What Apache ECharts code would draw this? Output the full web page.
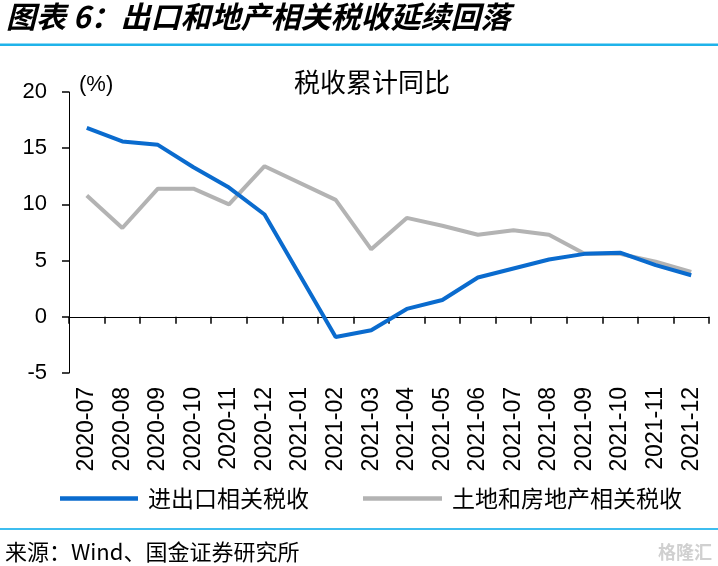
<!DOCTYPE html>
<html>
<head>
<meta charset="utf-8">
<script src="https://cdn.jsdelivr.net/npm/echarts@6/dist/echarts.min.js"></script>
<style>
html,body{margin:0;padding:0;background:#fff;}
#c{width:718px;height:566px;}
</style>
</head>
<body>
<div id="c"></div>
<script>
var categories = ['2020-07','2020-08','2020-09','2020-10','2020-11','2020-12','2021-01','2021-02','2021-03','2021-04','2021-05','2021-06','2021-07','2021-08','2021-09','2021-10','2021-11','2021-12'];
var importExportTax = [16.8, 15.6, 15.3, 13.3, 11.5, 9.1, null, -1.8, -1.2, 0.7, 1.5, 3.5, 4.3, 5.1, 5.6, 5.7, 4.6, 3.7];
var landPropertyTax = [10.8, 7.9, 11.4, 11.4, 10.0, 13.4, null, 10.4, 6.0, 8.8, 8.1, 7.3, 7.7, 7.3, 5.6, 5.6, 4.9, 4.0];
var seriesNames = ['进出口相关税收', '土地和房地产相关税收'];
var yTicks = {min: -5, max: 20, interval: 5};

var cjk = '"Noto Sans CJK SC", "Noto Sans", sans-serif';
var latin = '"Liberation Sans", Arial, sans-serif';

var chart = echarts.init(document.getElementById('c'), null, {renderer: 'canvas'});
chart.setOption({
  backgroundColor: '#fff',
  animation: false,
  grid: {left: 69, right: 9, top: 92, bottom: 193, containLabel: false},
  legend: [
    {data: [seriesNames[0]], left: 55, top: 482, icon: 'rect', itemWidth: 78, itemHeight: 4.5,
     textStyle: {fontFamily: cjk, fontSize: 23, color: '#000', padding: [0,0,0,5]}},
    {data: [seriesNames[1]], left: 358, top: 482, icon: 'rect', itemWidth: 79, itemHeight: 4.5,
     textStyle: {fontFamily: cjk, fontSize: 23, color: '#000', padding: [0,0,0,5]}}
  ],
  xAxis: [
    {type: 'category', data: categories, boundaryGap: true, position: 'bottom',
     axisLine: {show: false, onZero: false}, axisTick: {show: false},
     axisLabel: {rotate: 90, margin: 14, fontFamily: latin, fontSize: 23, color: '#000', interval: 0}},
    {type: 'category', data: categories, boundaryGap: true, position: 'bottom',
     axisLine: {show: true, onZero: true, lineStyle: {color: '#000', width: 1}},
     axisTick: {show: true, length: 7, alignWithLabel: false, interval: 0, lineStyle: {color: '#000', width: 1.5}},
     axisLabel: {show: false}}
  ],
  yAxis: {
    type: 'value', min: yTicks.min, max: yTicks.max, interval: yTicks.interval,
    splitLine: {show: false},
    axisLine: {show: true, lineStyle: {color: '#000', width: 1}},
    axisTick: {show: true, length: 7, lineStyle: {color: '#000', width: 1.5}},
    axisLabel: {margin: 22, fontFamily: latin, fontSize: 22, color: '#000'}
  },
  series: [
    {name: seriesNames[1], type: 'line', data: landPropertyTax, connectNulls: true,
     symbol: 'none', xAxisIndex: 0, color: '#B3B3B3', lineStyle: {width: 4, color: '#B3B3B3'}, z: 2},
    {name: seriesNames[0], type: 'line', data: importExportTax, connectNulls: true,
     symbol: 'none', xAxisIndex: 0, color: '#0A6BCE', lineStyle: {width: 4, color: '#0A6BCE'}, z: 3}
  ],
  graphic: [
    {type: 'text', left: 6, top: 2, style: {text: '图表 6：出口和地产相关税收延续回落', font: 'italic bold 30px ' + cjk, fill: '#000'}},
    {type: 'rect', shape: {x: 0, y: 43.5, width: 718, height: 2.5}, style: {fill: '#1FB3EA'}},
    {type: 'text', x: 372, y: 82, style: {text: '税收累计同比', font: '26px ' + cjk, fill: '#000', align: 'center', verticalAlign: 'middle'}},
    {type: 'text', x: 79, y: 85, style: {text: '(%)', font: '22px ' + latin, fill: '#000', verticalAlign: 'middle'}},
    {type: 'rect', shape: {x: 0, y: 528, width: 718, height: 2}, style: {fill: '#3DBDEF'}},
    {type: 'text', x: 5, y: 552, style: {text: '来源：Wind、国金证券研究所', font: '22px ' + cjk, fill: '#000', verticalAlign: 'middle'}},
    {type: 'text', x: 712, y: 552, style: {text: '格隆汇', font: 'bold 18px ' + cjk, fill: '#D0D0D0', align: 'right', verticalAlign: 'middle'}}
  ]
});
</script>
</body>
</html>
